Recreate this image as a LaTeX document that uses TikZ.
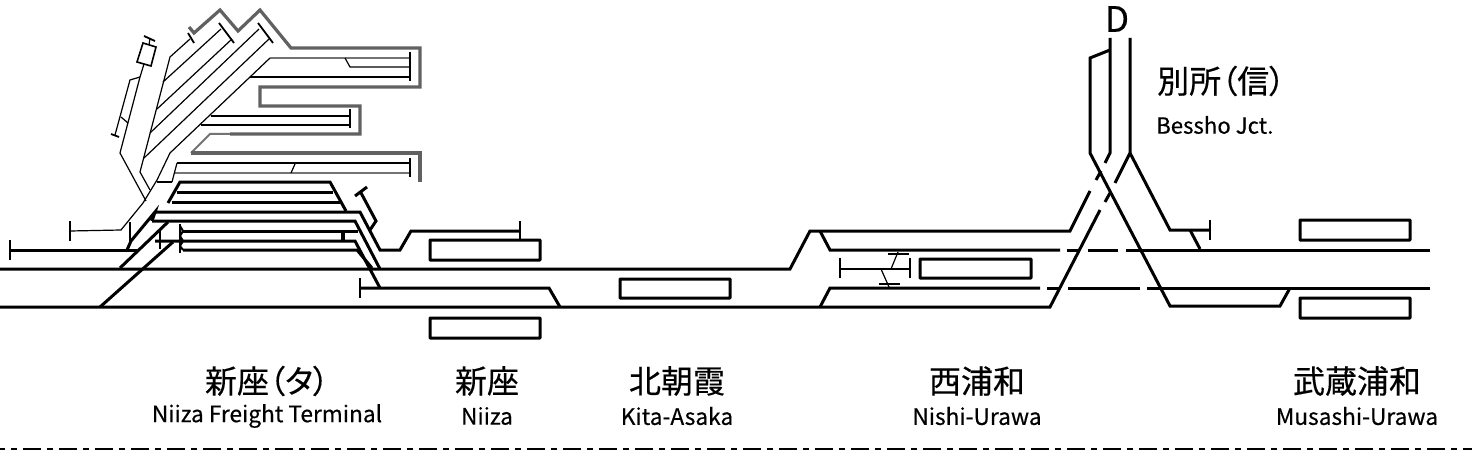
\documentclass[tikz,border=0pt]{standalone}
\usepackage{fontspec}
\newfontfamily\cjk[RawFeature={+palt},FakeBold=0.35]{Noto Sans CJK JP}
\tikzset{
  thk/.style={line width=3pt,black,line join=miter},
  thn/.style={line width=1.2pt,black},
  gy/.style={line width=3.2pt,black!62,line join=miter},
  gyt/.style={line width=1.6pt,black!55},
  stn/.style={line width=3pt,black,rounded corners=0.6pt},
  buf/.style={line width=1.8pt,black},
  jp/.style={inner sep=0pt,font=\cjk\fontsize{32}{36}\selectfont},
  en/.style={inner sep=0pt,font=\cjk\fontsize{22.7}{25}\selectfont},
}
\begin{document}
\begin{tikzpicture}[x=1pt,y=-1pt]
\useasboundingbox (0,0) rectangle (1472,468);
% yard outline
\draw[gy] (189,27) -- (194,33) -- (220,10) -- (238,31) -- (260,10) -- (291,48) -- (420,48) -- (420,87) -- (260,87) -- (260,106) -- (360,106) -- (360,134) -- (230,134);
\draw[gyt,line width=2pt] (230,134) -- (210,134) -- (191,153);
\draw[gy] (191,153) -- (420,153) -- (420,182);
% yard thin
\draw[gyt] (270,58) -- (410,58);
\draw[thn] (345,58) -- (350,67) -- (410,67);
\draw[thn] (250,77) -- (410,77);
\draw[buf] (410,52) -- (410,81);
\draw[thn] (211,116) -- (350,116);
\draw[thn] (201,125) -- (350,125);
\draw[buf] (350,109) -- (350,128);
\draw[thn] (270,58) -- (170,153) -- (157,180) -- (143,203) -- (121,230) -- (70,231);
\draw[buf] (70,221) -- (70,241);
\draw[thn] (130,222) -- (130,243);
\draw[thn] (144,158) -- (269,39);
\draw[thn] (150,133) -- (259,29);
\draw[buf] (258,23) -- (273,43);
\draw[thn] (157,109) -- (232,39);
\draw[thn] (163,82) -- (221,29);
\draw[buf] (219,23) -- (234,43);
\draw[thn] (150,190) -- (140,172) -- (170,57) -- (190,39);
\draw[buf] (188,33) -- (194,43);
\draw[thn] (146,201) -- (120,153) -- (140,77) -- (144,64);
\draw[thn,line width=1.6pt] (143,43) -- (156,47) -- (151,66) -- (137,62) -- cycle;
\draw[buf] (144,36) -- (155,41);
\draw[thn] (150,38) -- (149,45);
\draw[thn] (140,77) -- (130,80) -- (115,135);
\draw[buf] (111,134) -- (119,137);
\draw[thn] (121,117) -- (128,123);
\draw[thn] (177,163) -- (410,163);
\draw[gyt] (174,173) -- (410,173);
\draw[buf] (410,158) -- (410,177);
\draw[thn] (295,164) -- (291,173);
\draw[thn] (177,163) -- (172,182);
\draw[thn] (172,182) -- (157,182);
% freight terminal thick tracks
\draw[thk] (168,203) -- (180,182) -- (330,182) -- (346,211);
\draw[thk] (177,192) -- (333,192);
\draw[thk] (172,202) -- (340,202);
\draw[thk] (127,250) -- (131,241) -- (155,212) -- (152,221) (155,212) -- (360,212) -- (380,250) -- (400,250) -- (411,231) -- (520,231);
\draw[buf] (520,221) -- (520,241);
\draw[thk] (152,221) -- (355,221) -- (380,269);
\draw[thk] (168,222) -- (120,268);
\draw[thk] (173,242) -- (100,307);
\draw[thk] (183,231) -- (358,231);
\draw[thk] (155,241) -- (355,241) -- (380,288);
\draw[thk] (183,250) -- (357,250) -- (372,268);
\draw[line width=2.2pt] (160,231) -- (160,249);
\draw[buf] (180,224) -- (180,253);
\draw[thk,line width=2pt] (180,226) -- (183,231) -- (180,236) -- (183,241) -- (180,246) -- (183,250);
\draw[line width=4pt] (343,232) -- (343,240);
\draw[thk] (355,196) -- (367,187);
\draw[thk] (360,191) -- (376,221) -- (370,230);
% main lines
\draw[thk] (10,250) -- (139,250);
\draw[buf] (10,240) -- (10,260);
\draw[thk] (0,269) -- (790,269) -- (810,231) -- (1070,231) -- (1090,191);
\draw[thk] (1096,180) -- (1101,171);
\draw[thk] (1105,163) -- (1110,153) -- (1110,38);
\draw[thk] (0,307) -- (1050,307) -- (1100,210);
\draw[thk] (1105,202) -- (1110,193);
\draw[thk] (1115,183) -- (1130,153) -- (1130,38);
\draw[thk] (1130,153) -- (1170,230) -- (1210,230);
\draw[buf] (1210,220) -- (1210,240);
\draw[thk] (1190,230) -- (1200,249);
\draw[thk] (1110,50) -- (1090,58) -- (1090,153) -- (1170,306) -- (1280,306) -- (1290,288);
\draw[thk] (820,231) -- (830,250) -- (1060,250);
\draw[thk] (1067,250) -- (1080,250);
\draw[thk] (1088,250) -- (1118,250);
\draw[thk] (1126,250) -- (1430,250);
\draw[thk] (820,307) -- (830,288) -- (1040,288);
\draw[thk] (1047,288) -- (1060,288);
\draw[thk] (1068,288) -- (1140,288);
\draw[thk] (1147,288) -- (1430,288);
\draw[thk] (360,288) -- (549,288) -- (560,307);
\draw[buf] (360,278) -- (360,298);
% Nishi-Urawa sidings
\draw[thn] (840,269) -- (910,269);
\draw[buf] (840,258) -- (840,278);
\draw[buf] (910,258) -- (910,278);
\draw[thn] (898,252) -- (891,269);
\draw[buf] (888,254) -- (909,254);
\draw[thn] (881,269) -- (889,287);
\draw[buf] (879,284) -- (900,284);
% platforms
\draw[stn] (430,240) rectangle (540,260);
\draw[stn] (430,318) rectangle (540,338);
\draw[stn] (620,279) rectangle (730,298);
\draw[stn] (920,259) rectangle (1031,278);
\draw[stn] (1300,220) rectangle (1410,240);
\draw[stn] (1300,298) rectangle (1410,318);
% labels
\node[jp] (t1) at (267,381) {新座（タ）};
\node[en] (t2) at (267,416) {Niiza Freight Terminal};
\node[jp] (t3) at (487,381) {新座};
\node[en] (t4) at (487,416) {Niiza};
\node[jp] (t5) at (677,381) {北朝霞};
\node[en] (t6) at (677,416) {Kita-Asaka};
\node[jp] (t7) at (977,381) {西浦和};
\node[en] (t8) at (977,416) {Nishi-Urawa};
\node[jp] (t9) at (1357,381) {武蔵浦和};
\node[en] (t10) at (1357,416) {Musashi-Urawa};
\node[jp,anchor=west] (t11) at (1157,81) {別所（信）};
\node[en,anchor=west,font=\cjk\fontsize{22.2}{25}\selectfont] (t12) at (1156,125) {Bessho Jct.};
\node[inner sep=0pt,font=\cjk\fontsize{35}{38}\selectfont] (t13) at (1117,19) {D};
% boundary
\draw[line width=2pt,dash pattern=on 18pt off 6pt on 6pt off 6pt] (-12.7,449) -- (1472,449);
\end{tikzpicture}
\end{document}
